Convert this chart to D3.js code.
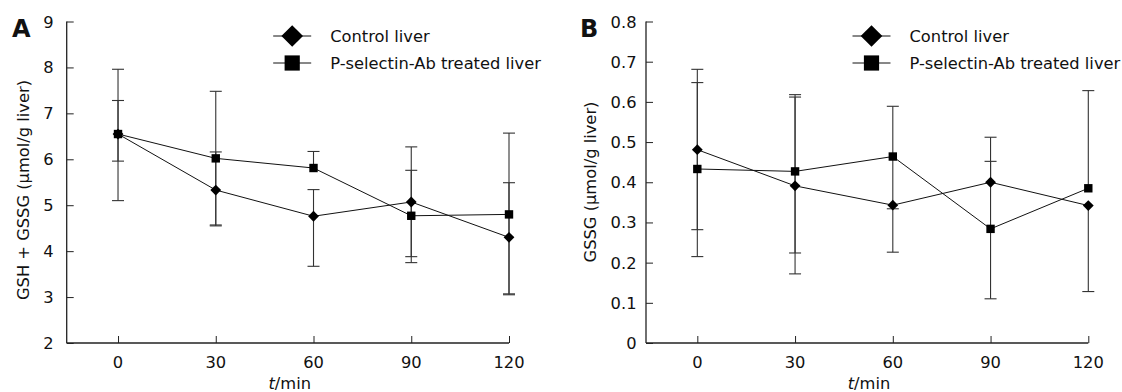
<!DOCTYPE html>
<html>
<head>
<meta charset="utf-8">
<script src="https://cdn.jsdelivr.net/npm/d3@7/dist/d3.min.js"></script>
<style>
  html, body { margin: 0; padding: 0; background: #fff; }
  svg { display: block; }
  text { font-family: "DejaVu Sans", Verdana, sans-serif; fill: #111; }
</style>
</head>
<body>
<svg id="chart" width="1122" height="392"></svg>
<script>
// ---------- data ----------
const timePoints = [0, 30, 60, 90, 120];
const xTickLabels = ["0", "30", "60", "90", "120"];
const seriesNames = ["Control liver", "P-selectin-Ab treated liver"];

// Panel A: GSH + GSSG (µmol/g liver)
const gshControl   = [6.55, 5.33, 4.76, 5.07, 4.30];
const gshControlHi = [7.28, 6.16, 5.34, 6.27, 5.49];
const gshControlLo = [5.96, 4.55, 3.67, 3.88, 3.07];
const gshTreated   = [6.55, 6.02, 5.81, 4.77, 4.80];
const gshTreatedHi = [7.96, 7.48, 6.17, 5.76, 6.57];
const gshTreatedLo = [5.10, 4.57, 5.81, 3.75, 3.05];
const gshTicks = [2, 3, 4, 5, 6, 7, 8, 9];
const gshTickLabels = ["2", "3", "4", "5", "6", "7", "8", "9"];

// Panel B: GSSG (µmol/g liver)
const gssgControl   = [0.481, 0.391, 0.343, 0.400, 0.342];
const gssgControlHi = [0.681, 0.612, 0.343, 0.512, 0.342];
const gssgControlLo = [0.282, 0.172, 0.226, 0.400, 0.128];
const gssgTreated   = [0.433, 0.427, 0.464, 0.284, 0.385];
const gssgTreatedHi = [0.648, 0.618, 0.589, 0.452, 0.628];
const gssgTreatedLo = [0.215, 0.224, 0.334, 0.110, 0.385];
const gssgTicks = [0, 0.1, 0.2, 0.3, 0.4, 0.5, 0.6, 0.7, 0.8];
const gssgTickLabels = ["0", "0.1", "0.2", "0.3", "0.4", "0.5", "0.6", "0.7", "0.8"];

// ---------- drawing ----------
const svg = d3.select("#chart");
const FONT = 16.3;

function panel(cfg) {
  const g = svg.append("g");
  const x = d3.scaleLinear().domain([-15.75, 120]).range([cfg.left, cfg.left + 442.3]);
  const y = d3.scaleLinear().domain(cfg.yDomain).range([343, 21.5]);

  // axes
  const xAxis = d3.axisBottom(x).tickValues(timePoints).tickSize(-7).tickFormat("");
  const yAxis = d3.axisLeft(y).tickValues(cfg.yTicks).tickSize(-7).tickFormat("");
  const gx = g.append("g").attr("transform", "translate(0,343)").call(xAxis);
  const gy = g.append("g").attr("transform", `translate(${cfg.left},0)`).call(yAxis);
  [gx, gy].forEach(a => {
    a.select(".domain").remove();
    a.selectAll("line").attr("stroke", "#222").attr("stroke-width", 1);
  });
  g.append("line").attr("x1", cfg.left).attr("x2", cfg.left + 442.3)
    .attr("y1", 343).attr("y2", 343).attr("stroke", "#222").attr("stroke-width", 1.3);
  g.append("line").attr("x1", cfg.left).attr("x2", cfg.left)
    .attr("y1", 21.5).attr("y2", 343).attr("stroke", "#222").attr("stroke-width", 1.3);

  // tick labels
  g.selectAll(".xl").data(timePoints).enter().append("text")
    .attr("x", d => x(d)).attr("y", 368).attr("text-anchor", "middle")
    .attr("font-size", FONT).text((d, i) => xTickLabels[i]);
  g.selectAll(".yl").data(cfg.yTicks).enter().append("text")
    .attr("x", cfg.left - cfg.labelGap).attr("y", d => y(d) + 6).attr("text-anchor", "end")
    .attr("font-size", FONT).text((d, i) => cfg.yTickLabels[i]);

  // axis titles
  const xt = g.append("text").attr("x", cfg.left + 223).attr("y", 389)
    .attr("text-anchor", "middle").attr("font-size", FONT);
  xt.append("tspan").attr("font-style", "italic").text("t");
  xt.append("tspan").text("/min");

  g.append("text")
    .attr("transform", `translate(${cfg.yTitleX},${cfg.yTitleY}) rotate(-90)`)
    .attr("text-anchor", "middle").attr("font-size", FONT).text(cfg.yTitle);

  // panel letter
  g.append("text").attr("x", cfg.letterX).attr("y", 37).attr("font-size", 24)
    .attr("font-weight", "bold").text(cfg.letter);

  // error bars
  const series = [
    { v: cfg.ctrl, hi: cfg.ctrlHi, lo: cfg.ctrlLo, shape: "diamond" },
    { v: cfg.trt, hi: cfg.trtHi, lo: cfg.trtLo, shape: "square" }
  ];
  series.forEach(s => {
    timePoints.forEach((t, i) => {
      const cx = x(t);
      [s.hi[i], s.lo[i]].forEach(e => {
        if (Math.abs(e - s.v[i]) < 1e-9) return;
        g.append("line").attr("x1", cx).attr("x2", cx)
          .attr("y1", y(s.v[i])).attr("y2", y(e)).attr("stroke", "#333").attr("stroke-width", 1.1);
        g.append("line").attr("x1", cx - 6).attr("x2", cx + 6)
          .attr("y1", y(e)).attr("y2", y(e)).attr("stroke", "#333").attr("stroke-width", 1.1);
      });
    });
  });

  // lines
  const line = d3.line().x((d, i) => x(timePoints[i])).y(d => y(d));
  series.forEach(s => {
    g.append("path").datum(s.v).attr("d", line).attr("fill", "none")
      .attr("stroke", "#111").attr("stroke-width", 1);
  });

  // markers
  series.forEach(s => {
    s.v.forEach((d, i) => drawMarker(g, s.shape, x(timePoints[i]), y(d), s.shape === "diamond" ? 5.4 : 4.2));
  });

  // legend
  const lx = cfg.left + 225.5;
  [36, 63].forEach((ly, k) => {
    g.append("line").attr("x1", lx - 19).attr("x2", lx + 19).attr("y1", ly).attr("y2", ly)
      .attr("stroke", "#111").attr("stroke-width", 1);
    drawMarker(g, k === 0 ? "diamond" : "square", lx, ly, k === 0 ? 10.8 : 7.6);
    g.append("text").attr("x", lx + 38).attr("y", ly + 6).attr("font-size", FONT)
      .text(seriesNames[k]);
  });
}

function drawMarker(g, shape, cx, cy, r) {
  if (shape === "diamond") {
    g.append("path").attr("d", `M${cx},${cy - r}L${cx + r},${cy}L${cx},${cy + r}L${cx - r},${cy}Z`)
      .attr("fill", "#000");
  } else {
    g.append("rect").attr("x", cx - r).attr("y", cy - r).attr("width", 2 * r).attr("height", 2 * r)
      .attr("fill", "#000");
  }
}

panel({
  left: 66.7, yDomain: [2, 9], yTicks: gshTicks, yTickLabels: gshTickLabels, labelGap: 13,
  yTitle: "GSH + GSSG (μmol/g liver)", yTitleX: 29, yTitleY: 190,
  letter: "A", letterX: 12,
  ctrl: gshControl, ctrlHi: gshControlHi, ctrlLo: gshControlLo,
  trt: gshTreated, trtHi: gshTreatedHi, trtLo: gshTreatedLo
});
panel({
  left: 646, yDomain: [0, 0.8], yTicks: gssgTicks, yTickLabels: gssgTickLabels, labelGap: 9.5,
  yTitle: "GSSG (μmol/g liver)", yTitleX: 596, yTitleY: 182,
  letter: "B", letterX: 580,
  ctrl: gssgControl, ctrlHi: gssgControlHi, ctrlLo: gssgControlLo,
  trt: gssgTreated, trtHi: gssgTreatedHi, trtLo: gssgTreatedLo
});
</script>
</body>
</html>
